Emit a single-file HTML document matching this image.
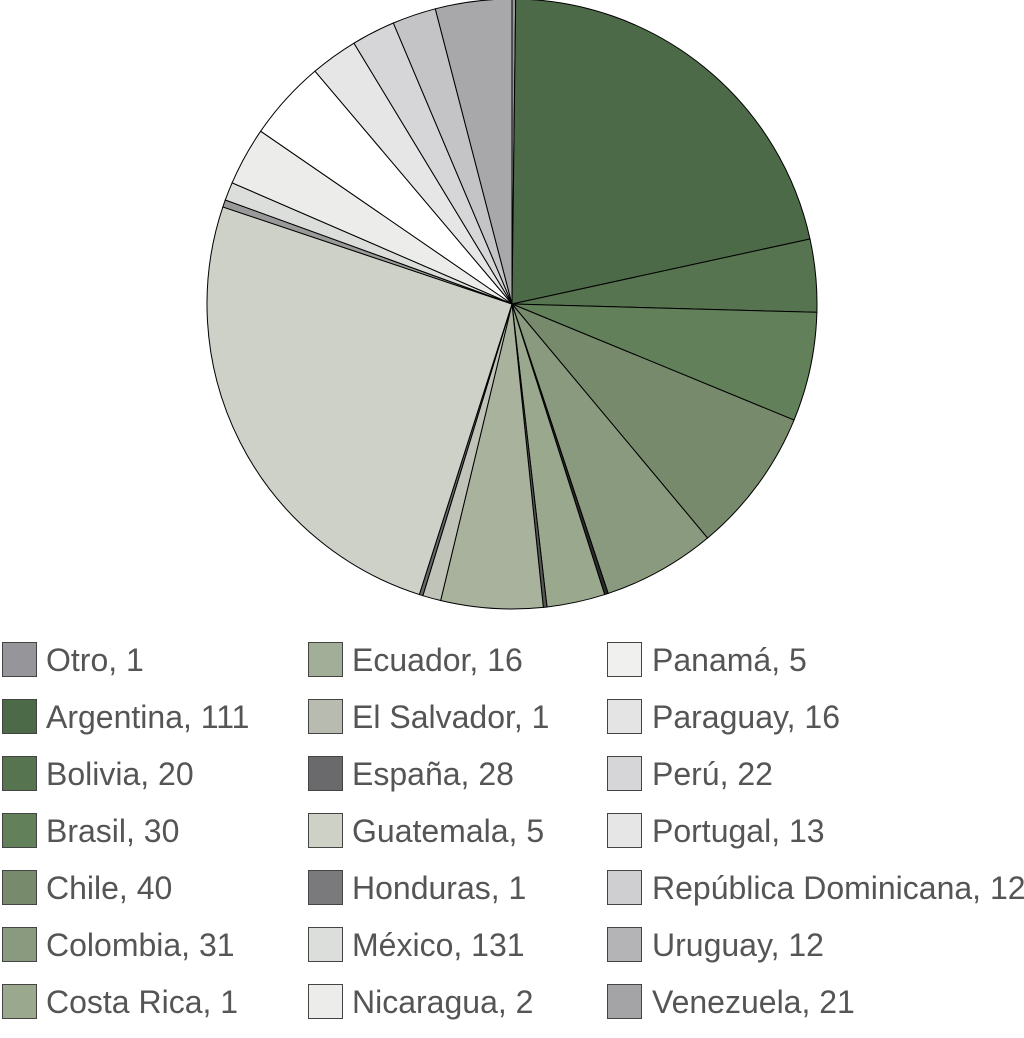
<!DOCTYPE html>
<html><head><meta charset="utf-8"><style>
html,body{margin:0;padding:0;background:#fff;}
svg text{font-family:"Liberation Sans",sans-serif;font-size:32px;fill:#555;}
</style></head><body>
<svg id="s" width="1024" height="1033" viewBox="0 0 1024 1033" xmlns="http://www.w3.org/2000/svg"></svg>
<script>
var d=[
["Otro",1,"#96969a","#96969a"],
["Argentina",111,"#4d6a48","#4d6a48"],
["Bolivia",20,"#56744f","#56744f"],
["Brasil",30,"#62805a","#62805a"],
["Chile",40,"#788a6c","#788a6c"],
["Colombia",31,"#8a9a7e","#8a9a7e"],
["Costa Rica",1,"#2a2a2a","#9aa88e"],
["Ecuador",16,"#9aa88e","#a3ae98"],
["El Salvador",1,"#555555","#b8bcb0"],
["España",28,"#a8b29c","#6a6a6c"],
["Guatemala",5,"#c0c4b8","#cdd1c6"],
["Honduras",1,"#666666","#7a7a7c"],
["México",131,"#ced1c8","#dcdedb"],
["Nicaragua",2,"#9a9a9a","#ececea"],
["Panamá",5,"#dcdedb","#f0f0ef"],
["Paraguay",16,"#ececea","#e4e4e4"],
["Perú",22,"#ffffff","#d6d6d8"],
["Portugal",13,"#e6e6e6","#e6e6e6"],
["República Dominicana",12,"#d6d6d8","#cfcfd1"],
["Uruguay",12,"#c4c4c6","#b4b4b6"],
["Venezuela",21,"#a8a8aa","#a4a4a6"]];
var tot=0;d.forEach(function(e){tot+=e[1];});
var cx=512,cy=304,r=305,a=0,h="";
d.forEach(function(e){
 var a2=a+e[1]/tot*2*Math.PI;
 var x1=cx+r*Math.sin(a),y1=cy-r*Math.cos(a),x2=cx+r*Math.sin(a2),y2=cy-r*Math.cos(a2);
 h+='<path d="M'+cx+','+cy+' L'+x1.toFixed(2)+','+y1.toFixed(2)+' A'+r+','+r+' 0 '+((a2-a)>Math.PI?1:0)+' 1 '+x2.toFixed(2)+','+y2.toFixed(2)+' Z" fill="'+e[2]+'" stroke="#000" stroke-width="1"/>';
 a=a2;
});
var cols=[[2,46],[308,352],[607,652]];
d.forEach(function(e,i){
 var c=cols[Math.floor(i/7)],row=i%7,y=660+row*57;
 h+='<rect x="'+(c[0]+0.5)+'" y="'+(y-17.5)+'" width="34" height="34" fill="'+e[3]+'" stroke="#444" stroke-width="1"/>';
 h+='<text x="'+c[1]+'" y="'+(y+11)+'">'+e[0]+', '+e[1]+'</text>';
});
document.getElementById("s").innerHTML=h;
</script>
</body></html>
